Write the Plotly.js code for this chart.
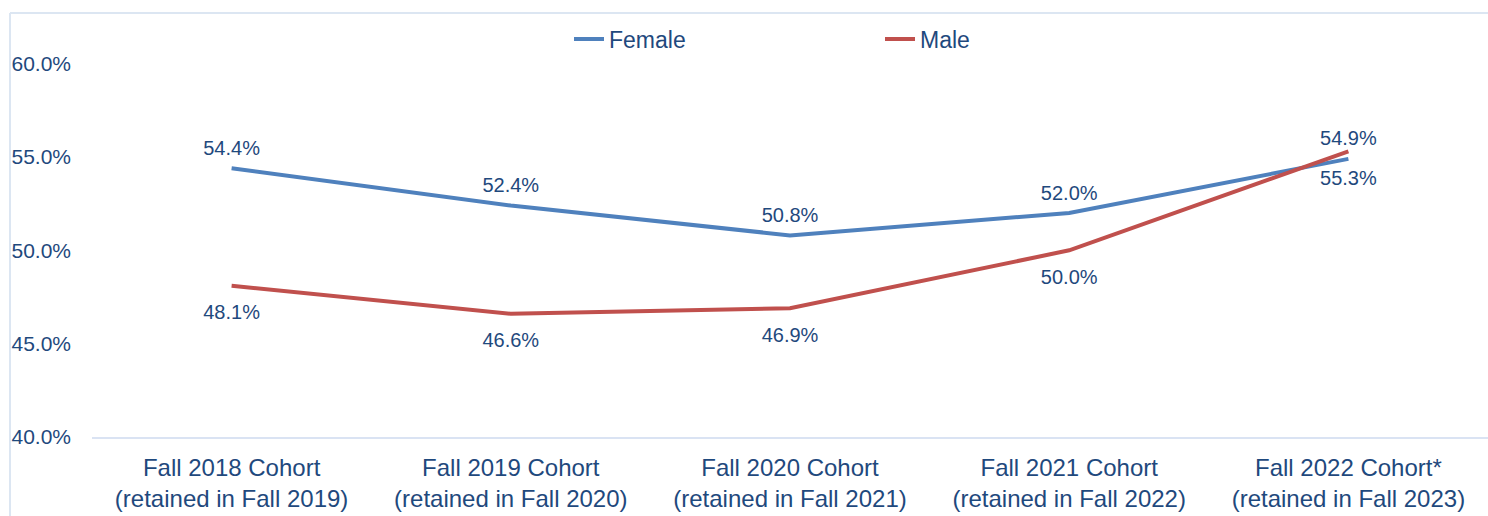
<!DOCTYPE html>
<html>
<head>
<meta charset="utf-8">
<script src="https://cdn.plot.ly/plotly-3.0.1.min.js"></script>
<style>
html,body{margin:0;padding:0;background:#fff;}
#chart{width:1488px;height:516px;}
</style>
</head>
<body>
<div id="chart"></div>
<script>
const categories = [
  "Fall 2018 Cohort<br>(retained in Fall 2019)",
  "Fall 2019 Cohort<br>(retained in Fall 2020)",
  "Fall 2020 Cohort<br>(retained in Fall 2021)",
  "Fall 2021 Cohort<br>(retained in Fall 2022)",
  "Fall 2022 Cohort*<br>(retained in Fall 2023)"
];
const female = [54.4, 52.4, 50.8, 52.0, 54.9];
const male = [48.1, 46.6, 46.9, 50.0, 55.3];
const yTicks = [40, 45, 50, 55, 60];

const textColor = "#1F497D";
const fontFamily = "'Liberation Sans', Arial, sans-serif";

const W = 1488, H = 516;
const mL = 92, mR = 0, mT = 17, mB = 79;
const pw = W - mL - mR, ph = H - mT - mB;
const px = v => (v - mL) / pw;
const py = v => (H - mB - v) / ph;

const traces = [
  {
    x: categories, y: female, name: "Female", type: "scatter",
    mode: "lines+markers+text",
    line: {color: "#4F81BD", width: 4},
    marker: {size: 12, color: "rgba(0,0,0,0)"},
    texttemplate: "%{y:.1f}%", textposition: "top center",
    textfont: {family: fontFamily, size: 20, color: textColor},
    hoverinfo: "skip"
  },
  {
    x: categories, y: male, name: "Male", type: "scatter",
    mode: "lines+markers+text",
    line: {color: "#C0504D", width: 4},
    marker: {size: 28, color: "rgba(0,0,0,0)"},
    texttemplate: "%{y:.1f}%", textposition: "bottom center",
    textfont: {family: fontFamily, size: 20, color: textColor},
    hoverinfo: "skip"
  }
];

const layout = {
  width: W, height: H,
  margin: {l: mL, r: mR, t: mT, b: mB, pad: 0},
  paper_bgcolor: "#ffffff", plot_bgcolor: "#ffffff",
  font: {family: fontFamily, color: textColor, size: 20},
  showlegend: true,
  legend: {
    orientation: "h", x: px(569), xanchor: "left", y: py(39), yanchor: "middle",
    font: {family: fontFamily, size: 23, color: textColor},
    bgcolor: "rgba(0,0,0,0)", entrywidth: 266, itemwidth: 30
  },
  xaxis: {
    type: "category", range: [-0.5, 4.5], automargin: false,
    showgrid: false, zeroline: false,
    showline: true, linecolor: "#DAE3F3", linewidth: 2,
    ticks: "", ticklabelstandoff: 8,
    tickfont: {family: fontFamily, size: 24, color: textColor}
  },
  yaxis: {
    range: [40, 62.5], automargin: false,
    tickvals: yTicks, ticktext: yTicks.map(v => v.toFixed(1) + "%"),
    showgrid: false, zeroline: false, showline: false,
    ticks: "", ticklabelstandoff: 20,
    tickfont: {family: fontFamily, size: 21, color: textColor}
  },
  shapes: [
    {type: "line", xref: "paper", yref: "paper", x0: px(10), x1: px(10), y0: py(13), y1: py(520), line: {color: "#DCE6F2", width: 2}},
    {type: "line", xref: "paper", yref: "paper", x0: px(10), x1: px(1490), y0: py(13), y1: py(13), line: {color: "#DCE6F2", width: 2}}
  ]
};

Plotly.newPlot("chart", traces, layout, {displayModeBar: false, staticPlot: true});
</script>
</body>
</html>
